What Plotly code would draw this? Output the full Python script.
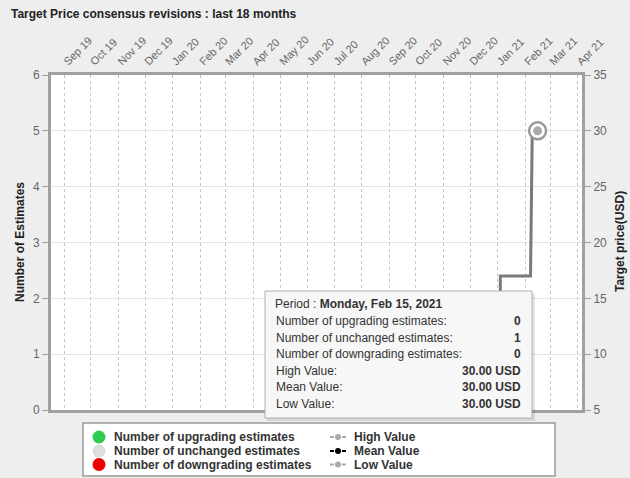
import plotly.graph_objects as go

# ---------------- data ----------------
mean_dates = ["2021-01-04", "2021-01-04", "2021-02-07", "2021-02-09", "2021-02-15"]
mean_values = [12, 17, 17, 30, 30]
last_date = ["2021-02-15"]
last_value = [30]
estimate_dates = ["2021-02-15"]
unchanged_counts = [1]

tooltip_labels = ["Number of upgrading estimates:", "Number of unchanged estimates:",
                  "Number of downgrading estimates:", "High Value:", "Mean Value:", "Low Value:"]
tooltip_values = ["0", "1", "0", "30.00 USD", "30.00 USD", "30.00 USD"]
tooltip_period = "Monday, Feb 15, 2021"

legend_left = ["Number of upgrading estimates", "Number of unchanged estimates",
               "Number of downgrading estimates"]
legend_left_colors = ["#2ecc4f", "#dddddd", "#ee0000"]
legend_right = ["High Value", "Mean Value", "Low Value"]
legend_right_colors = ["#aaaaaa", "#000000", "#aaaaaa"]

W, H = 630, 478
L, R, T, B = 51, 582, 75, 410
FONT = "Liberation Sans, Arial, sans-serif"


def px(x):
    return (x - L) / (R - L)


def py(y):
    return (B - y) / (B - T)


fig = go.Figure()
# estimate counts (hidden behind the tooltip in the reference)
fig.add_trace(go.Scatter(x=estimate_dates, y=unchanged_counts, yaxis="y", mode="markers",
                         marker=dict(size=1, color="rgba(0,0,0,0)"), showlegend=False,
                         hoverinfo="skip"))
fig.add_trace(go.Scatter(x=mean_dates, y=mean_values, yaxis="y2", mode="lines",
                         line=dict(color="#7a7a7a", width=3), showlegend=False,
                         hoverinfo="skip"))
fig.add_trace(go.Scatter(x=last_date, y=last_value, yaxis="y2", mode="markers",
                         marker=dict(size=17, color="white",
                                     line=dict(color="#999999", width=2.5)),
                         showlegend=False, hoverinfo="skip"))
fig.add_trace(go.Scatter(x=last_date, y=last_value, yaxis="y2", mode="markers",
                         marker=dict(size=9, color="#aaaaaa"),
                         showlegend=False, hoverinfo="skip"))

shapes = []
annotations = []

# title
annotations.append(dict(text="<b>Target Price consensus revisions : last 18 months</b>",
                        xref="paper", yref="paper", x=px(9), y=py(14),
                        xanchor="left", yanchor="middle", showarrow=False,
                        font=dict(family=FONT, size=12, color="#222222")))

# tooltip
tx0, tx1, ty0, ty1 = 265, 532, 291, 418
shapes.append(dict(type="rect", xref="paper", yref="paper",
                   x0=px(tx0 + 2), x1=px(tx1 + 3), y0=py(ty0 + 2), y1=py(ty1 + 3),
                   fillcolor="rgba(0,0,0,0.10)", line=dict(width=0), layer="above"))
shapes.append(dict(type="rect", xref="paper", yref="paper",
                   x0=px(tx0), x1=px(tx1), y0=py(ty0), y1=py(ty1),
                   fillcolor="#f7f7f7", line=dict(color="#b0b0b0", width=1), layer="above"))
annotations.append(dict(text="Period : <b>" + tooltip_period + "</b>", xref="paper", yref="paper",
                        x=px(273), y=py(304), xanchor="left", yanchor="middle",
                        showarrow=False, font=dict(family=FONT, size=12, color="#333333")))
for i, (lab, val) in enumerate(zip(tooltip_labels, tooltip_values)):
    yy = 321 + i * 16.5
    annotations.append(dict(text=lab, xref="paper", yref="paper", x=px(274), y=py(yy),
                            xanchor="left", yanchor="middle", showarrow=False,
                            font=dict(family=FONT, size=12, color="#333333")))
    annotations.append(dict(text="<b>" + val + "</b>", xref="paper", yref="paper",
                            x=px(523), y=py(yy), xanchor="right", yanchor="middle",
                            showarrow=False, font=dict(family=FONT, size=12, color="#333333")))

# legend box
shapes.append(dict(type="rect", xref="paper", yref="paper",
                   x0=px(83), x1=px(555), y0=py(423), y1=py(476),
                   fillcolor="white", line=dict(color="#999999", width=1.5), layer="above"))
rows = [437, 451, 464.5]
for i, (lab, col) in enumerate(zip(legend_left, legend_left_colors)):
    shapes.append(dict(type="circle", xref="paper", yref="paper",
                       x0=px(99 - 6.5), x1=px(99 + 6.5), y0=py(rows[i] - 6.5), y1=py(rows[i] + 6.5),
                       fillcolor=col, line=dict(width=0), layer="above"))
    annotations.append(dict(text="<b>" + lab + "</b>", xref="paper", yref="paper",
                            x=px(112), y=py(rows[i]), xanchor="left", yanchor="middle",
                            showarrow=False, font=dict(family=FONT, size=12, color="#333333")))
for i, (lab, col) in enumerate(zip(legend_right, legend_right_colors)):
    for sx0, sx1 in ((330, 334), (342, 346)):
        shapes.append(dict(type="line", xref="paper", yref="paper",
                           x0=px(sx0), x1=px(sx1), y0=py(rows[i]), y1=py(rows[i]),
                           line=dict(color=col, width=2), layer="above"))
    shapes.append(dict(type="circle", xref="paper", yref="paper",
                       x0=px(338 - 3), x1=px(338 + 3), y0=py(rows[i] - 3), y1=py(rows[i] + 3),
                       fillcolor=col, line=dict(width=0), layer="above"))
    annotations.append(dict(text="<b>" + lab + "</b>", xref="paper", yref="paper",
                            x=px(352), y=py(rows[i]), xanchor="left", yanchor="middle",
                            showarrow=False, font=dict(family=FONT, size=12, color="#333333")))

# axis titles
annotations.append(dict(text="<b>Number of Estimates</b>", xref="paper", yref="paper",
                        x=px(20), y=py(242), textangle=-90, xanchor="center", yanchor="middle",
                        showarrow=False, font=dict(family=FONT, size=12, color="#222222")))
annotations.append(dict(text="<b>Target price(USD)</b>", xref="paper", yref="paper",
                        x=px(620), y=py(242), textangle=-90, xanchor="center", yanchor="middle",
                        showarrow=False, font=dict(family=FONT, size=12, color="#222222")))

fig.update_layout(
    width=W, height=H,
    margin=dict(l=L, r=W - R, t=T, b=H - B, pad=0),
    paper_bgcolor="#eeeeee", plot_bgcolor="white",
    font=dict(family=FONT, size=12, color="#666666"),
    showlegend=False,
    shapes=shapes, annotations=annotations,
    xaxis=dict(type="date", side="top", range=["2019-08-17", "2021-04-06"],
               tick0="2019-09-01", dtick="M1", tickformat="%b %y", tickangle=-45,
               tickfont=dict(size=11, color="#666666"),
               showgrid=True, gridcolor="#c4c4c4", griddash="dot", gridwidth=1,
               showline=True, linecolor="#a0a0a0", linewidth=3, mirror=True,
               ticks="", zeroline=False),
    yaxis=dict(range=[0, 6], dtick=1, ticks="outside", ticklen=6, tickcolor="#a0a0a0",
               tickwidth=1, tickfont=dict(size=12, color="#666666"),
               showgrid=True, gridcolor="#e4e4e4", gridwidth=1,
               showline=True, linecolor="#a0a0a0", linewidth=3, zeroline=False),
    yaxis2=dict(range=[5, 35], dtick=5, overlaying="y", side="right", ticks="outside",
                ticklen=6, tickcolor="#a0a0a0", tickwidth=1,
                tickfont=dict(size=12, color="#666666"), showgrid=False,
                showline=True, linecolor="#a0a0a0", linewidth=3, zeroline=False),
)

fig.write_html("out.html")
